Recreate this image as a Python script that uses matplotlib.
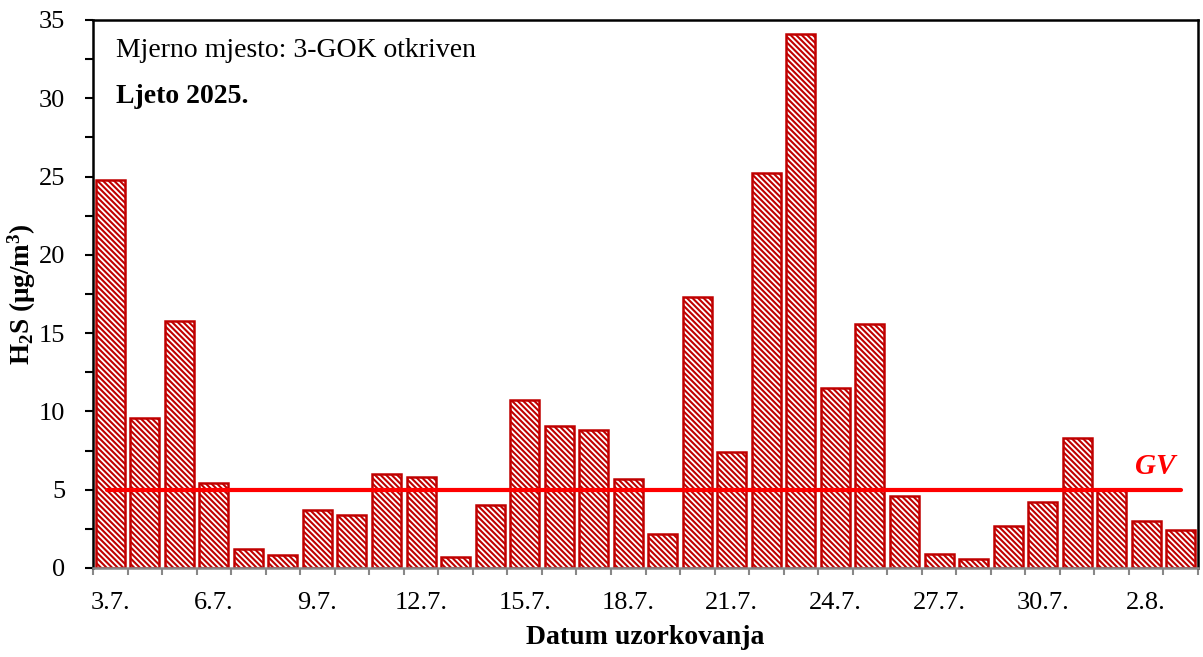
import matplotlib
matplotlib.use("Agg")
import matplotlib.pyplot as plt
import numpy as np

plt.rcParams.update({
    "font.family": "Liberation Serif",
    "font.size": 19,
    "mathtext.fontset": "custom",
    "mathtext.rm": "Liberation Serif",
    "mathtext.bf": "Liberation Serif:bold",
    "hatch.color": "#e06868",
    "hatch.linewidth": 1.5,
})

# ------------------------------------------------------------------
dates = ["3.7.", "4.7.", "5.7.", "6.7.", "7.7.", "8.7.", "9.7.", "10.7.",
         "11.7.", "12.7.", "13.7.", "14.7.", "15.7.", "16.7.", "17.7.", "18.7.",
         "19.7.", "20.7.", "21.7.", "22.7.", "23.7.", "24.7.", "25.7.", "26.7.",
         "27.7.", "28.7.", "29.7.", "30.7.", "31.7.", "1.8.", "2.8.", "3.8."]
h2s = [24.8, 9.6, 15.8, 5.4, 1.2, 0.8, 3.7, 3.4,
       6.0, 5.8, 0.7, 4.0, 10.7, 9.1, 8.8, 5.7,
       2.2, 17.3, 7.4, 25.2, 34.1, 11.5, 15.6, 4.6,
       0.9, 0.6, 2.7, 4.2, 8.3, 5.0, 3.0, 2.4]
gv = 5

fig = plt.figure(figsize=(12.03, 6.57), dpi=100)
ax = fig.add_axes([93/1203, 1 - 568/657, (1198 - 93)/1203, (568 - 20)/657])

x = np.arange(len(dates))
ax.bar(x, h2s, width=0.84, color="white", edgecolor="#c00000",
       linewidth=1.8, hatch="\\\\\\\\\\\\", zorder=2)
ax.plot([x[0] - 0.1, x[-1]], [gv, gv], color="red", lw=3, zorder=3,
        solid_capstyle="round")
ax.text(x[-2] + 0.25, gv + 1.0, "GV", color="red", fontsize=21,
        fontweight="bold", style="italic", ha="center", va="baseline")

ax.set_xlim(-0.5, len(dates) - 0.5)
ax.set_ylim(0, 35)
ax.set_yticks(np.arange(0, 36, 5))
ax.set_yticks(np.arange(0, 35, 2.5), minor=True)
ax.tick_params(axis="y", which="major", direction="out", length=6, width=1.5,
               pad=14)
ax.tick_params(axis="y", which="minor", direction="out", length=6, width=1.5)

# tick marks between bars, labels every third day
ax.set_xticks(np.arange(-0.5, len(dates), 1))
ax.set_xticklabels([])
ax.set_xticks(x[::3], minor=True)
ax.set_xticklabels(dates[::3], minor=True)
ax.tick_params(axis="x", which="major", direction="out", length=5, width=1.5,
               color="#888888")
ax.tick_params(axis="x", which="minor", length=0, pad=17)

for s in ["left", "top", "right"]:
    ax.spines[s].set_linewidth(1.8)
ax.spines["bottom"].set_color("#888888")
ax.spines["bottom"].set_linewidth(1.8)

ax.set_xlabel("Datum uzorkovanja", fontsize=20, fontweight="bold", labelpad=8)
ax.set_ylabel(r"$\mathbf{H_2S}$ $\mathbf{(\mu g/m^3)}$", fontsize=19.5)
ax.yaxis.set_label_coords(-0.05, 0.5)

ax.text(0.021, 0.945, "Mjerno mjesto: 3-GOK otkriven", transform=ax.transAxes,
        fontsize=20, va="center")
ax.text(0.021, 0.86, "Ljeto 2025.", transform=ax.transAxes,
        fontsize=20, fontweight="bold", va="center")

fig.savefig("out.png", dpi=100)
